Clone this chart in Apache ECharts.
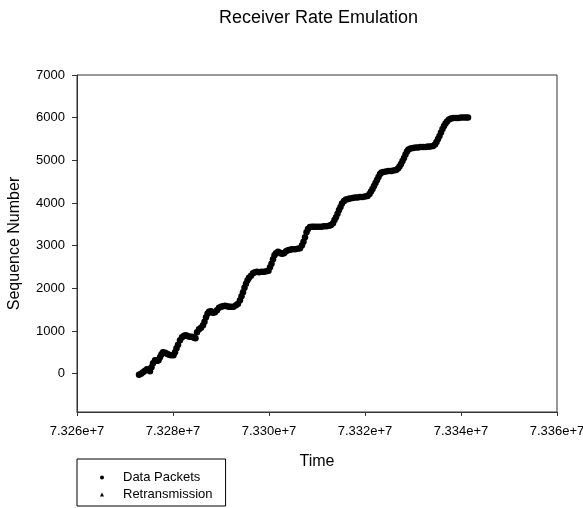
<!DOCTYPE html>
<html>
<head>
<meta charset="utf-8">
<script src="https://cdn.jsdelivr.net/npm/echarts@6/dist/echarts.min.js"></script>
<style>html,body{margin:0;padding:0;background:#fff;}#c{width:583px;height:508px;}</style>
</head>
<body>
<div id="c"></div>
<script>
// Data Packets: time, sequence number
var dataTime = [73272917,73273333,73273750,73274167,73274583,73275208,73275521,73275833,73276250,73276667,
73276979,73277292,73277604,73277917,73278333,73278750,73279167,73279583,73280104,73280417,
73280729,73281042,73281458,73281875,73282292,73282708,73283125,73283542,73283958,73284375,
73284688,73285000,73285417,73285833,73286250,73286563,73286875,73287188,73287500,73287917,
73288333,73288750,73289167,73289583,73290000,73290417,73290833,73291250,73291667,73292083,
73292604,73293125,73293542,73293958,73294271,73294583,73294896,73295208,73295521,73295833,
73296250,73296667,73297083,73297500,73297917,73298438,73298958,73299479,73299896,73300208,
73300521,73300833,73301146,73301458,73301875,73302292,73302708,73303125,73303542,73303958,
73304375,73304792,73305417,73305938,73306458,73306875,73307188,73307500,73307813,73308125,
73308542,73308958,73309375,73309896,73310417,73310938,73311458,73311979,73312500,73312917,
73313333,73313646,73313958,73314271,73314583,73314896,73315208,73315625,73316042,73316458,
73316875,73317396,73317917,73318438,73318958,73319479,73320000,73320521,73320938,73321250,
73321563,73321875,73322188,73322500,73322813,73323125,73323438,73323854,73324375,73324896,
73325417,73325938,73326458,73326875,73327188,73327500,73327813,73328125,73328438,73328750,
73329063,73329479,73330000,73330521,73331042,73331563,73332083,73332604,73333125,73333646,
73334167,73334583,73334896,73335208,73335521,73335833,73336146,73336458,73336771,73337083,
73337500,73337917,73338438,73338958,73339479,73340000,73340521,73341042,73341458];
var dataSeq = [-28,-5,31,66,101,54,148,242,312,300,
312,383,453,500,488,465,441,430,430,500,
594,676,782,852,887,899,875,864,864,840,
828,969,1040,1075,1134,1216,1321,1403,1450,1462,
1427,1439,1486,1544,1568,1580,1591,1580,1568,1568,
1568,1603,1638,1720,1814,1908,2013,2108,2190,2248,
2295,2354,2377,2389,2377,2389,2389,2401,2413,2495,
2577,2683,2777,2824,2859,2835,2812,2824,2870,2894,
2906,2917,2917,2929,2941,3011,3093,3199,3316,3387,
3434,3445,3445,3445,3445,3445,3457,3457,3469,3481,
3527,3598,3668,3750,3833,3903,3985,4044,4079,4091,
4103,4114,4126,4126,4138,4138,4150,4161,4208,4267,
4326,4396,4466,4537,4607,4678,4713,4725,4736,4748,
4748,4760,4771,4807,4854,4912,4983,5053,5135,5206,
5253,5276,5288,5300,5300,5311,5311,5311,5323,5323,
5335,5370,5429,5499,5569,5652,5734,5804,5863,5910,
5957,5980,5992,5992,5992,6004,6004,6004,6004];
// Retransmissions
var retxTime = [73276667,73278958,73279792,73282917,73283750,73288125,73291042,73292292,73298542,73302500,
73303333,73309583,73311667,73317292,73318958,73325208,73326250,73331042,73333125,73338750,73340208];
var retxSeq = [288,453,430,875,852,1427,1580,1568,2377,2812,
2847,3434,3457,4114,4138,4748,4760,5300,5311,5992,6004];
var yTicks = [0,1000,2000,3000,4000,5000,6000,7000];
var xMin = 73260000, xMax = 73360000, xStep = 20000;
var yMin = -900, yMax = 7000;

function zip(a,b){var r=[];for(var i=0;i<a.length;i++)r.push([a[i],b[i]]);return r;}
var FONT = 'Liberation Sans, Arial, sans-serif';
var chart = echarts.init(document.getElementById('c'), null, {renderer:'canvas'});
chart.setOption({
  animation:false,
  backgroundColor:'#fff',
  title:{text:'Receiver Rate Emulation', left:214, top:4,
    textStyle:{fontFamily:FONT, fontSize:18, fontWeight:'normal', color:'#000'}},
  grid:{left:77, right:26, top:75, bottom:96, outerBoundsMode:'none', containLabel:false,
    show:true, borderColor:'#333', borderWidth:1, backgroundColor:'transparent'},
  legend:{orient:'vertical', left:77, top:459, padding:[12,13,5,23],
    itemWidth:4, itemHeight:4, itemGap:4, borderColor:'#000', borderWidth:1,
    symbolKeepAspect:true,
    textStyle:{fontFamily:FONT, fontSize:13, color:'#000', padding:[0,0,0,14]},
    data:['Data Packets','Retransmission']},
  xAxis:{type:'value', min:xMin, max:xMax, interval:xStep,
    name:'Time', nameLocation:'middle', nameGap:42,
    nameTextStyle:{fontFamily:FONT, fontSize:16, color:'#000'},
    axisLine:{onZero:false, lineStyle:{color:'#333', width:1}},
    axisTick:{show:true, length:4, inside:false, lineStyle:{color:'#333'}},
    axisLabel:{margin:13, fontFamily:FONT, fontSize:13, color:'#000',
      formatter:function(v){return (v/1e7).toFixed(3)+'e+7';}},
    splitLine:{show:false}},
  yAxis:{type:'value', min:yMin, max:yMax,
    name:'Sequence Number', nameLocation:'middle', nameGap:54,
    nameTextStyle:{fontFamily:FONT, fontSize:16, color:'#000'},
    axisLine:{show:true, onZero:false, lineStyle:{color:'#333', width:1}},
    axisTick:{show:true, length:5, inside:false, customValues:yTicks, lineStyle:{color:'#333'}},
    axisLabel:{margin:12, fontFamily:FONT, fontSize:13, color:'#000', customValues:yTicks,
      formatter:function(v){return String(v);}},
    splitLine:{show:false}},
  series:[
    {name:'Data Packets', type:'scatter', symbol:'circle', symbolSize:6.5, symbolKeepAspect:true,
      itemStyle:{color:'#000', opacity:1}, data:zip(dataTime, dataSeq)},
    {name:'Retransmission', type:'scatter', symbol:'triangle', symbolSize:5, symbolKeepAspect:true,
      itemStyle:{color:'#000', opacity:1}, data:zip(retxTime, retxSeq)}
  ]
});
</script>
</body>
</html>
